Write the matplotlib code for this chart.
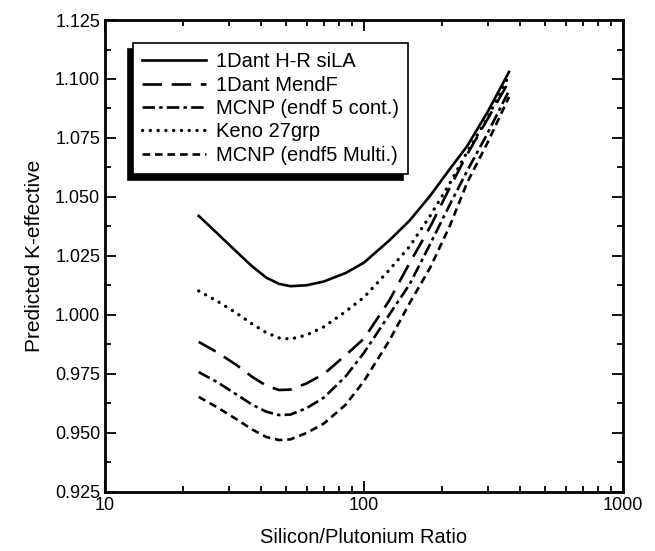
import matplotlib
matplotlib.use('Agg')
import matplotlib.pyplot as plt
from matplotlib.ticker import FixedLocator, FormatStrFormatter, LogLocator, NullFormatter

plt.rcParams['font.family'] = ['Liberation Sans', 'DejaVu Sans']
plt.rcParams['lines.scale_dashes'] = False

# Silicon/Plutonium ratio (x)
ratio = [23, 27, 32, 37, 42, 47, 52, 60, 70, 85, 100, 125, 150, 180, 215, 250, 300, 363]

# Predicted K-effective per code / library
k_dant_hr = [1.042, 1.0348, 1.0271, 1.0206, 1.0158, 1.0132, 1.0122, 1.0126, 1.0142, 1.0178,
             1.0222, 1.0315, 1.0400, 1.0505, 1.0620, 1.0715, 1.0860, 1.1030]
k_dant_mendf = [0.9886, 0.9843, 0.9790, 0.9738, 0.9700, 0.9682, 0.9684, 0.9710, 0.9750, 0.9830,
                0.9900, 1.0060, 1.0220, 1.0373, 1.0542, 1.0680, 1.0830, 1.0990]
k_mcnp_cont = [0.9758, 0.9717, 0.9665, 0.9620, 0.9590, 0.9576, 0.9578, 0.9605, 0.9650, 0.9740,
               0.9840, 1.0000, 1.0130, 1.0300, 1.0470, 1.0610, 1.0770, 1.0950]
k_keno = [1.0102, 1.0060, 1.0010, 0.9962, 0.9925, 0.9903, 0.9898, 0.9915, 0.9950, 1.0015,
          1.0075, 1.0190, 1.0290, 1.0420, 1.0560, 1.0690, 1.0835, 1.1015]
k_mcnp_multi = [0.9653, 0.9610, 0.9560, 0.9515, 0.9483, 0.9470, 0.9473, 0.9500, 0.9540, 0.9620,
                0.9720, 0.9890, 1.0050, 1.0200, 1.0380, 1.0560, 1.0730, 1.0924]

labels = ['1Dant H-R siLA', '1Dant MendF', 'MCNP (endf 5 cont.)', 'Keno 27grp', 'MCNP (endf5 Multi.)']
yticks = [0.925, 0.950, 0.975, 1.000, 1.025, 1.050, 1.075, 1.100, 1.125]

fig = plt.figure(figsize=(6.55, 5.51), dpi=100)
ax = fig.add_axes([0.1603, 0.1071, 0.7908, 0.8566])

lw = 1.9
ax.plot(ratio, k_dant_hr, color='black', lw=lw, label=labels[0])
ax.plot(ratio, k_dant_mendf, color='black', lw=lw, dashes=(14, 7), label=labels[1])
ax.plot(ratio, k_mcnp_cont, color='black', lw=lw, dashes=(9, 3, 2.5, 3), label=labels[2])
ax.plot(ratio, k_keno, color='black', lw=2.4, dashes=(0.1, 5.5), dash_capstyle='round', label=labels[3])
ax.plot(ratio, k_mcnp_multi, color='black', lw=lw, dashes=(5.5, 3.5), label=labels[4])

ax.set_xscale('log')
ax.set_xlim(10, 1000)
ax.set_ylim(0.925, 1.125)
ax.yaxis.set_major_locator(FixedLocator(yticks))
ax.yaxis.set_minor_locator(FixedLocator([v + 0.0125 for v in yticks[:-1]]))
ax.yaxis.set_major_formatter(FormatStrFormatter('%.3f'))
ax.xaxis.set_major_locator(FixedLocator([10, 100, 1000]))
ax.xaxis.set_major_formatter(FormatStrFormatter('%d'))
ax.xaxis.set_minor_locator(LogLocator(base=10, subs=range(2, 10)))
ax.xaxis.set_minor_formatter(NullFormatter())

ax.tick_params(which='both', direction='in', top=True, right=True, width=1.3, labelsize=13)
ax.tick_params(which='major', length=8)
ax.tick_params(which='minor', length=4.5)
for s in ax.spines.values():
    s.set_linewidth(2)

ax.set_xlabel('Silicon/Plutonium Ratio', fontsize=14.5, labelpad=10)
ax.set_ylabel('Predicted K-effective', fontsize=15, labelpad=8)

leg = ax.legend(loc='upper left', bbox_to_anchor=(0.054, 0.951), borderaxespad=0,
                fontsize=14.5, handlelength=3.2, handletextpad=0.45, labelspacing=0.22,
                borderpad=0.45, fancybox=False, edgecolor='black', framealpha=1,
                shadow={'ox': -3.5, 'oy': -4, 'facecolor': 'black', 'edgecolor': 'black', 'alpha': 1})
leg.get_frame().set_linewidth(1.2)

fig.savefig('out.png', dpi=100)
